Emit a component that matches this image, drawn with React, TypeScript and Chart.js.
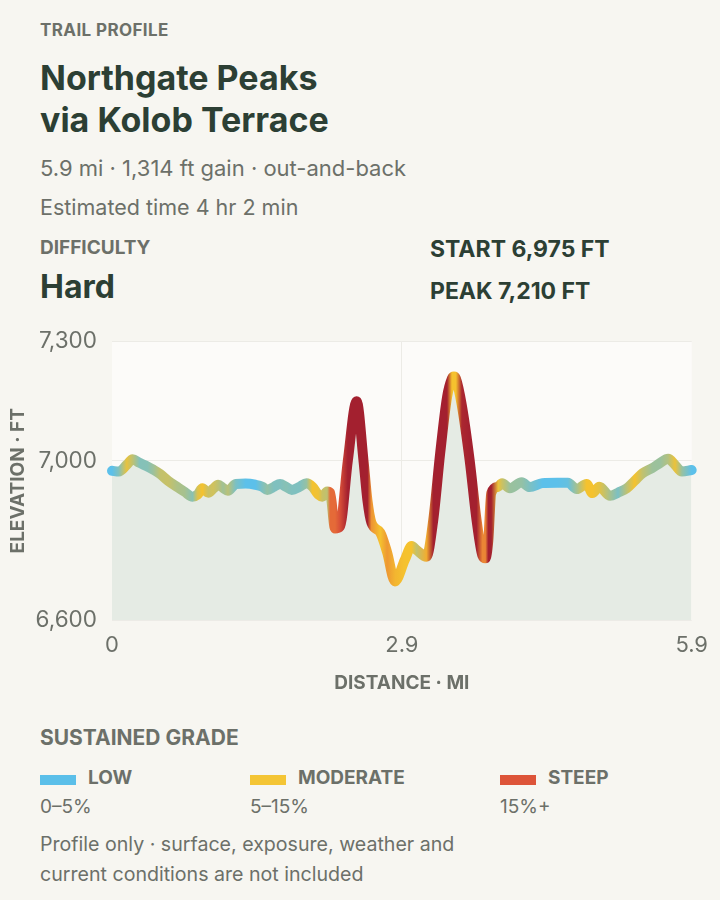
import React, { useEffect, useLayoutEffect, useRef } from "react";
import { Chart, registerables } from "chart.js";

Chart.register(...registerables);

// ---- data ----
const DIST_MI = [
  0.0, 0.07, 0.15, 0.21, 0.28, 0.36, 0.42, 0.49, 0.57, 0.66, 0.74, 0.82, 0.87, 0.92, 0.98,
  1.03, 1.08, 1.13, 1.18, 1.26, 1.36, 1.46, 1.53, 1.58, 1.65, 1.71, 1.77, 1.83, 1.91, 1.98,
  2.04, 2.1, 2.14, 2.19, 2.22, 2.27, 2.32, 2.4, 2.49, 2.56, 2.6, 2.64, 2.73, 2.8, 2.88,
  2.98, 3.05, 3.1, 3.2, 3.27, 3.34, 3.41, 3.46, 3.48, 3.5, 3.56, 3.64, 3.71, 3.77, 3.8,
  3.83, 3.86, 3.93, 3.97, 4.05, 4.17, 4.25, 4.38, 4.53, 4.64, 4.73, 4.83, 4.89, 4.96,
  5.07, 5.15, 5.24, 5.32, 5.4, 5.5, 5.58, 5.66, 5.73, 5.8, 5.9,
];
const ELEV_FT = [
  6975, 6973, 6990, 7004, 6995, 6986, 6978, 6967, 6950, 6935, 6922, 6910, 6915, 6931, 6920,
  6930, 6940, 6932, 6925, 6942, 6943, 6940, 6935, 6927, 6935, 6942, 6935, 6927, 6935, 6944,
  6935, 6915, 6910, 6923, 6920, 6830, 6835, 7000, 7150, 7000, 6900, 6845, 6820, 6770, 6697,
  6751, 6786, 6776, 6759, 6852, 7019, 7160, 7207, 7212, 7207, 7140, 7002, 6852, 6762, 6755,
  6800, 6919, 6935, 6944, 6931, 6946, 6934, 6944, 6945, 6945, 6929, 6942, 6919, 6935,
  6912, 6920, 6931, 6950, 6969, 6982, 6995, 7005, 6990, 6973, 6977,
];
const X_TICK_VALUES = [0, 2.95, 5.9];
const X_TICK_LABELS = ["0", "2.9", "5.9"];
const Y_TICK_VALUES = [6600, 7000, 7300];
const Y_MIN = 6600;
const Y_MAX = 7300;
const X_MAX = 5.9;

// grade colour scale (percent grade -> colour)
const GRADE_STOPS = [0, 1.5, 4.5, 13, 19, 28];
const GRADE_COLORS = ["#5cc0ea", "#5cc0ea", "#f5c22e", "#f5c22e", "#e2583a", "#a3202f"];

const LEGEND_NAMES = ["LOW", "MODERATE", "STEEP"];
const LEGEND_RANGES = ["0–5%", "5–15%", "15%+"];
const LEGEND_COLORS = ["#5bbfe9", "#f4c535", "#dd5439"];

const BG = "#f7f6f1";
const DARK = "#2c3f34";
const GRAY = "#6c7069";
const FONT = "Inter, 'Noto Sans', sans-serif";

function hexToRgb(h: string) {
  const n = parseInt(h.slice(1), 16);
  return [(n >> 16) & 255, (n >> 8) & 255, n & 255];
}

function colorForGrade(g: number) {
  if (g <= GRADE_STOPS[0]) return GRADE_COLORS[0];
  for (let i = 1; i < GRADE_STOPS.length; i++) {
    if (g <= GRADE_STOPS[i]) {
      const t = (g - GRADE_STOPS[i - 1]) / (GRADE_STOPS[i] - GRADE_STOPS[i - 1]);
      const a = hexToRgb(GRADE_COLORS[i - 1]);
      const b = hexToRgb(GRADE_COLORS[i]);
      const c = a.map((v, k) => Math.round(v + (b[k] - v) * t));
      return `rgb(${c[0]},${c[1]},${c[2]})`;
    }
  }
  return GRADE_COLORS[GRADE_COLORS.length - 1];
}

function pointGrades() {
  const seg: number[] = [];
  for (let i = 0; i < DIST_MI.length - 1; i++) {
    const dFt = (DIST_MI[i + 1] - DIST_MI[i]) * 5280;
    seg.push((Math.abs(ELEV_FT[i + 1] - ELEV_FT[i]) / dFt) * 100);
  }
  return DIST_MI.map((_, i) => {
    const a = i > 0 ? seg[i - 1] : seg[0];
    const b = i < seg.length ? seg[i] : seg[seg.length - 1];
    return (a + b) / 2;
  });
}

const plotBg = {
  id: "plotBg",
  beforeDraw(chart: any) {
    const { ctx, chartArea } = chart;
    if (!chartArea) return;
    ctx.save();
    ctx.fillStyle = "#fcfbf9";
    ctx.fillRect(chartArea.left, chartArea.top, chartArea.right - chartArea.left, chartArea.bottom - chartArea.top);
    ctx.restore();
  },
};

const CANVAS_TOP = 313;
const CANVAS_H = 387;

function ProfileChart() {
  const ref = useRef<HTMLCanvasElement>(null);
  useEffect(() => {
    if (!ref.current) return;
    const grades = pointGrades();
    const chart = new Chart(ref.current, {
      type: "line",
      data: {
        datasets: [
          {
            data: DIST_MI.map((d, i) => ({ x: d, y: ELEV_FT[i] })),
            borderWidth: 10,
            borderCapStyle: "round",
            borderJoinStyle: "round",
            pointRadius: 0,
            cubicInterpolationMode: "monotone",
            fill: "start",
            backgroundColor: "#e5ebe4",
            clip: false as any,
            borderColor: (ctx: any) => {
              const c = ctx.chart;
              const area = c.chartArea;
              if (!area || !c.scales.x) return GRADE_COLORS[0];
              const g = c.ctx.createLinearGradient(area.left, 0, area.right, 0);
              const w = area.right - area.left;
              DIST_MI.forEach((d, i) => {
                const px = c.scales.x.getPixelForValue(d);
                const s = Math.min(1, Math.max(0, (px - area.left) / w));
                g.addColorStop(s, colorForGrade(grades[i]));
              });
              return g;
            },
          } as any,
        ],
      },
      options: {
        animation: false,
        responsive: false,
        maintainAspectRatio: false,
        layout: { padding: { top: 0, right: 28, left: 0, bottom: 0 } },
        plugins: { legend: { display: false }, tooltip: { enabled: false } },
        scales: {
          x: {
            type: "linear",
            min: 0,
            max: X_MAX,
            border: { display: false },
            grid: {
              drawTicks: false,
              color: (c: any) =>
                c.index === 0 || c.index === X_TICK_VALUES.length - 1 ? "rgba(0,0,0,0)" : "#ecebe6",
              lineWidth: 1,
            },
            afterBuildTicks: (s: any) => {
              s.ticks = X_TICK_VALUES.map((v) => ({ value: v }));
            },
            afterFit: (s: any) => {
              s.height = 80;
            },
            ticks: {
              padding: 12,
              maxRotation: 0,
              autoSkip: false,
              color: GRAY,
              font: { family: FONT, size: 22 },
              callback: (v: any) => {
                const i = X_TICK_VALUES.findIndex((t) => Math.abs(t - v) < 1e-6);
                return i >= 0 ? X_TICK_LABELS[i] : "";
              },
            },
            title: {
              display: true,
              text: "DISTANCE · MI",
              color: GRAY,
              font: { family: FONT, size: 19, weight: "bold" },
              padding: { top: 0, bottom: 5 },
            },
          },
          y: {
            min: Y_MIN,
            max: Y_MAX,
            border: { display: false },
            grid: { drawTicks: false, color: "#ecebe6", lineWidth: 1 },
            afterBuildTicks: (s: any) => {
              s.ticks = Y_TICK_VALUES.map((v) => ({ value: v }));
            },
            afterFit: (s: any) => {
              s.width = 112;
            },
            ticks: {
              padding: 15,
              autoSkip: false,
              color: GRAY,
              font: { family: FONT, size: 22.5 },
              callback: (v: any) => Number(v).toLocaleString("en-US"),
            },
            title: {
              display: true,
              text: "ELEVATION · FT",
              color: GRAY,
              font: { family: FONT, size: 19, weight: "bold" },
              padding: { top: 7, bottom: 0 },
            },
          },
        },
      },
      plugins: [plotBg],
    });
    return () => chart.destroy();
  }, []);
  return (
    <canvas
      ref={ref}
      width={720}
      height={CANVAS_H}
      style={{ position: "absolute", left: 0, top: CANVAS_TOP, width: 720, height: CANVAS_H }}
    />
  );
}

function T(props: { x: number; cy: number; size: number; lh?: number; weight?: number; color: string; children: any; ls?: string }) {
  const lh = props.lh ?? Math.round(props.size * 1.3);
  return (
    <div
      style={{
        position: "absolute",
        left: props.x,
        top: props.cy - lh / 2,
        fontSize: props.size,
        lineHeight: `${lh}px`,
        fontWeight: props.weight ?? 400,
        color: props.color,
        whiteSpace: "nowrap",
        letterSpacing: props.ls,
      }}
    >
      {props.children}
    </div>
  );
}

export default function App() {
  useLayoutEffect(() => {
    document.body.style.margin = "0";
    document.body.style.background = BG;
    document.documentElement.style.background = BG;
  }, []);
  return (
    <div
      style={{
        position: "relative",
        width: 720,
        height: 900,
        background: BG,
        fontFamily: FONT,
        overflow: "hidden",
      }}
    >
      <T x={40} cy={30} size={17} weight={700} color={GRAY} ls="0.4px">TRAIL PROFILE</T>
      <T x={40} cy={78} size={34} lh={42} weight={700} color={DARK}>Northgate Peaks</T>
      <T x={40} cy={120} size={34} lh={42} weight={700} color={DARK}>via Kolob Terrace</T>
      <T x={40} cy={168} size={22} color={GRAY}>5.9 mi · 1,314 ft gain · out-and-back</T>
      <T x={40} cy={207} size={21.5} color={GRAY}>Estimated time 4 hr 2 min</T>
      <T x={40} cy={247} size={19} weight={700} color={GRAY}>DIFFICULTY</T>
      <T x={40} cy={287} size={32} weight={700} color={DARK}>Hard</T>
      <T x={430} cy={249} size={23} weight={700} color={DARK}>START 6,975 FT</T>
      <T x={430} cy={291} size={23} weight={700} color={DARK}>PEAK 7,210 FT</T>
      <ProfileChart />
      <T x={40} cy={737} size={21} weight={700} color={GRAY}>SUSTAINED GRADE</T>
      {LEGEND_NAMES.map((n, i) => {
        const x = [40, 250, 500][i];
        return (
          <React.Fragment key={n}>
            <div style={{ position: "absolute", left: x, top: 775, width: 36, height: 10, background: LEGEND_COLORS[i] }} />
            <T x={x + 48} cy={777} size={19} weight={700} color={GRAY}>{n}</T>
            <T x={x} cy={806} size={19} color={GRAY}>{LEGEND_RANGES[i]}</T>
          </React.Fragment>
        );
      })}
      <T x={40} cy={844} size={19.6} color={GRAY}>Profile only · surface, exposure, weather and</T>
      <T x={40} cy={874} size={19.6} color={GRAY}>current conditions are not included</T>
    </div>
  );
}
